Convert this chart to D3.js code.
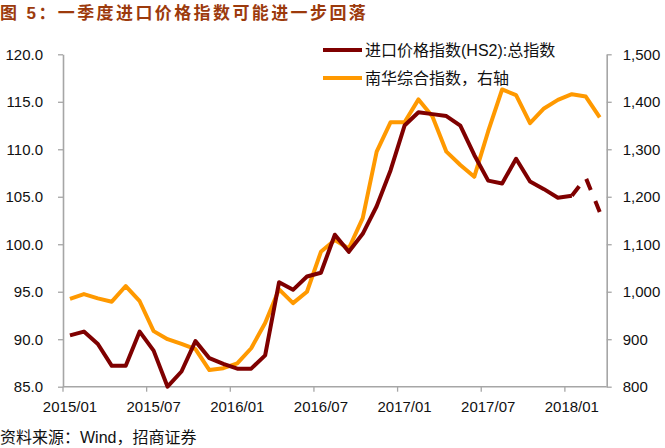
<!DOCTYPE html>
<html><head><meta charset="utf-8">
<script src="https://cdn.jsdelivr.net/npm/d3@7"></script>
<style>
html,body{margin:0;padding:0;background:#fff;}
svg{display:block;}
text{font-family:"Liberation Sans",Arial,"Noto Sans CJK SC",sans-serif;}
</style></head>
<body>
<svg id="chart" width="665" height="448"></svg>
<script>
const months = ["2015/01","2015/02","2015/03","2015/04","2015/05","2015/06","2015/07","2015/08","2015/09","2015/10","2015/11","2015/12",
"2016/01","2016/02","2016/03","2016/04","2016/05","2016/06","2016/07","2016/08","2016/09","2016/10","2016/11","2016/12",
"2017/01","2017/02","2017/03","2017/04","2017/05","2017/06","2017/07","2017/08","2017/09","2017/10","2017/11","2017/12",
"2018/01","2018/02","2018/03"];
const importPrice = [90.4,90.8,89.5,87.2,87.2,90.8,88.8,85.0,86.6,89.8,88.0,87.4,
86.9,86.9,88.3,96.0,95.2,96.6,97.0,101.0,99.2,101.1,104.0,107.8,
112.5,113.9,113.7,113.5,112.5,109.4,106.7,106.4,109.0,106.6,105.8,104.9,
105.1,107.0,103.4];
const nanhua = [985,995,986,979,1012,980,917,900,890,879,835,839,
849,881,934,1005,976,1000,1084,1109,1091,1155,1295,1357,
1357,1405,1369,1295,1267,1242,1338,1426,1414,1355,1386,1404,
1416,1411,1367];
const xTickLabels = ["2015/01","2015/07","2016/01","2016/07","2017/01","2017/07","2018/01"];
const leftTicks = [85,90,95,100,105,110,115,120];
const rightTicks = [800,900,1000,1100,1200,1300,1400,1500];
const dashedFrom = "2018/01";
const seriesNames = ["进口价格指数(HS2):总指数","南华综合指数，右轴"];
const colors = ["#7F0000","#FF9900"];

const svg = d3.select("#chart");
const L = 63, R = 606.7, T = 54.3, B = 386.7;
const x = d3.scaleBand().domain(months).range([L,R]).padding(0);
const cx = d => x(d) + x.bandwidth()/2;
const yL = d3.scaleLinear().domain([85,120]).range([B,T]);
const yR = d3.scaleLinear().domain([800,1500]).range([B,T]);
const axisColor = "#A6A6A6";

// title
svg.append("text").attr("x",0).attr("y",19)
  .attr("font-family","'Noto Sans CJK SC',sans-serif").attr("font-weight","bold")
  .attr("font-size",17).attr("letter-spacing",2.4).attr("fill","#9C3A0C")
  .text("图 5：一季度进口价格指数可能进一步回落");

// left axis
const gL = svg.append("g").attr("transform",`translate(${L},0)`)
  .call(d3.axisLeft(yL).tickValues(leftTicks).tickFormat(d3.format(".1f")).tickSize(5).tickSizeOuter(0).tickPadding(15));
// right axis
const gR = svg.append("g").attr("transform",`translate(${R},0)`)
  .call(d3.axisRight(yR).tickValues(rightTicks).tickFormat(d3.format(",")).tickSize(5).tickSizeOuter(0).tickPadding(11));
// bottom axis
const gB = svg.append("g").attr("transform",`translate(0,${B})`)
  .call(d3.axisBottom(x).tickValues(xTickLabels).tickSize(5).tickSizeOuter(0).tickPadding(10));
gB.selectAll(".tick line").attr("x1",-x.bandwidth()/2).attr("x2",-x.bandwidth()/2);

[gL,gR,gB].forEach(g=>{
  g.select(".domain").attr("stroke",axisColor).attr("stroke-width",1.6);
  g.selectAll(".tick line").attr("stroke",axisColor).attr("stroke-width",1.3);
  g.selectAll(".tick text").attr("fill","#111").attr("font-size",15)
   .attr("font-family","'Liberation Sans',Arial,sans-serif");
});
gB.select(".domain").attr("d",`M${L},0H${R}`);

// lines
const di = months.indexOf(dashedFrom);
const lineL = d3.line().x((d,i)=>cx(months[d.i])).y(d=>yL(d.v));
const lineR = d3.line().x((d,i)=>cx(months[d.i])).y(d=>yR(d.v));
const ipData = importPrice.map((v,i)=>({i,v}));
const nhData = nanhua.map((v,i)=>({i,v}));

svg.append("path").attr("d",lineR(nhData)).attr("fill","none")
  .attr("stroke",colors[1]).attr("stroke-width",4).attr("stroke-linejoin","round");
svg.append("path").attr("d",lineL(ipData.slice(0,di+1))).attr("fill","none")
  .attr("stroke",colors[0]).attr("stroke-width",4).attr("stroke-linejoin","round");
svg.append("path").attr("d",lineL(ipData.slice(di))).attr("fill","none")
  .attr("stroke",colors[0]).attr("stroke-width",4).attr("stroke-dasharray","12,12");

// legend
const lg = svg.append("g");
[0,1].forEach(k=>{
  const yy = 50 + k*28;
  lg.append("line").attr("x1",323).attr("x2",362).attr("y1",yy).attr("y2",yy)
    .attr("stroke",colors[k]).attr("stroke-width",4);
  lg.append("text").attr("x",365).attr("y",yy).attr("dominant-baseline","central")
    .attr("font-size",16).attr("fill","#111").text(seriesNames[k]);
});

// footer
svg.append("text").attr("x",0).attr("y",443).attr("font-size",16).attr("fill","#111")
  .text("资料来源：Wind，招商证券");
</script>
</body></html>
